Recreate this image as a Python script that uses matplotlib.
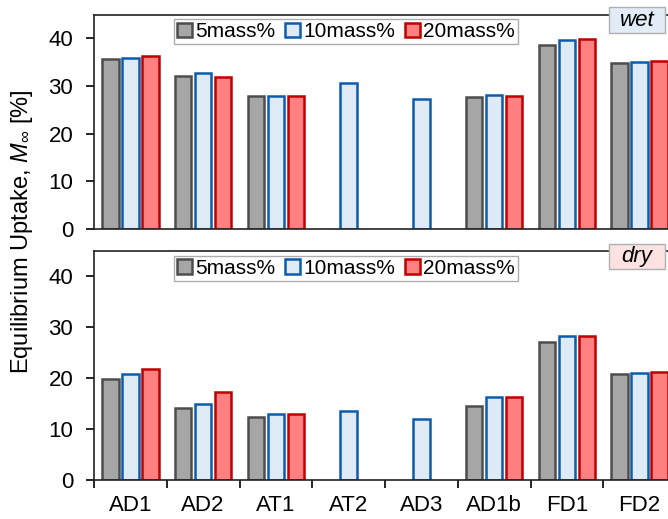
import numpy as np
import matplotlib.pyplot as plt
from matplotlib.patches import Rectangle

plt.rcParams['font.family'] = ['Liberation Sans', 'DejaVu Sans']
plt.rcParams['mathtext.fontset'] = 'custom'
plt.rcParams['mathtext.rm'] = 'Liberation Sans'
plt.rcParams['mathtext.it'] = 'Liberation Sans:italic'

samples = ['AD1', 'AD2', 'AT1', 'AT2', 'AD3', 'AD1b', 'FD1', 'FD2']
series = ['5mass%', '10mass%', '20mass%']

# equilibrium uptake [%]; NaN where no sample was measured
wet_5 = [35.7, 32.1, 27.8, np.nan, np.nan, 27.7, 38.5, 34.8]
wet_10 = [35.8, 32.8, 27.9, 30.7, 27.2, 28.1, 39.6, 35.1]
wet_20 = [36.3, 31.9, 27.9, np.nan, np.nan, 27.9, 39.8, 35.3]

dry_5 = [19.9, 14.2, 12.4, np.nan, np.nan, 14.5, 27.1, 20.8]
dry_10 = [20.8, 15.0, 13.0, 13.6, 12.0, 16.2, 28.2, 21.0]
dry_20 = [21.8, 17.3, 13.0, np.nan, np.nan, 16.2, 28.2, 21.2]

fills = ['#a6a6a6', '#deebf7', '#ff8080']
edges = ['#4d4d4d', '#0b5cad', '#c00000']

W, H = 668, 519
fig = plt.figure(figsize=(W / 100, H / 100), dpi=100)
# axes boxes in pixels: left, right, top, bottom
ax_wet = fig.add_axes([94 / W, 1 - 229 / H, 582 / W, 214.5 / H])
ax_dry = fig.add_axes([94 / W, 1 - 480 / H, 582 / W, 229.5 / H])

x = np.arange(len(samples))
offsets = [-0.275, 0, 0.275]


def draw_panel(ax, data, tag, tag_color, show_labels):
    for i, vals in enumerate(data):
        ax.bar(x + offsets[i], vals, width=0.23, color=fills[i],
               edgecolor=edges[i], linewidth=1.8, label=series[i], zorder=2)
    ax.set_xlim(-0.5, len(samples) - 0.5)
    ax.set_ylim(0, 45)
    ax.set_yticks([0, 10, 20, 30, 40])
    ax.tick_params(axis='y', labelsize=16, length=6, width=1.2,
                   direction='out', pad=9)
    ax.set_xticks(x)
    ax.set_xticks(np.arange(len(samples) + 1) - 0.5, minor=True)
    if show_labels:
        ax.set_xticklabels(samples, fontsize=16)
        ax.tick_params(axis='x', which='major', length=0, pad=11)
        ax.tick_params(axis='x', which='minor', length=6, width=1.2,
                       direction='out')
    else:
        ax.set_xticklabels([])
        ax.tick_params(axis='x', which='both', length=0)
    for s in ax.spines.values():
        s.set_linewidth(1.2)
        s.set_color('#222222')
    leg = ax.legend(loc='upper left', bbox_to_anchor=(80 / 582, 0.978), ncol=3,
                    fontsize=15, handlelength=0.7, handleheight=0.7,
                    handletextpad=0.15, columnspacing=0.5, borderpad=0.15,
                    borderaxespad=0, fancybox=False, frameon=True)
    leg.get_frame().set_edgecolor('#999999')
    leg.get_frame().set_linewidth(1.0)
    # condition tag straddling the top spine
    h = ax.bbox.height
    box = Rectangle((515 / 582, 1 - 18 / h), 56 / 582, 25 / h,
                    transform=ax.transAxes, facecolor=tag_color,
                    edgecolor='#b0b0b0', linewidth=1.0, clip_on=False,
                    zorder=5)
    ax.add_patch(box)
    ax.text(543 / 582, 1 - 5.5 / h, tag, transform=ax.transAxes,
            ha='center', va='center', fontsize=16, style='italic', zorder=6)


draw_panel(ax_wet, [wet_5, wet_10, wet_20], 'wet', '#e1ecf7', False)
draw_panel(ax_dry, [dry_5, dry_10, dry_20], 'dry', '#fde2e2', True)

fig.text(22 / W, 1 - 232 / H, r'Equilibrium Uptake, $M_\infty$ [%]',
         rotation=90, ha='center', va='center', fontsize=17)

fig.savefig('out.png', dpi=100)
